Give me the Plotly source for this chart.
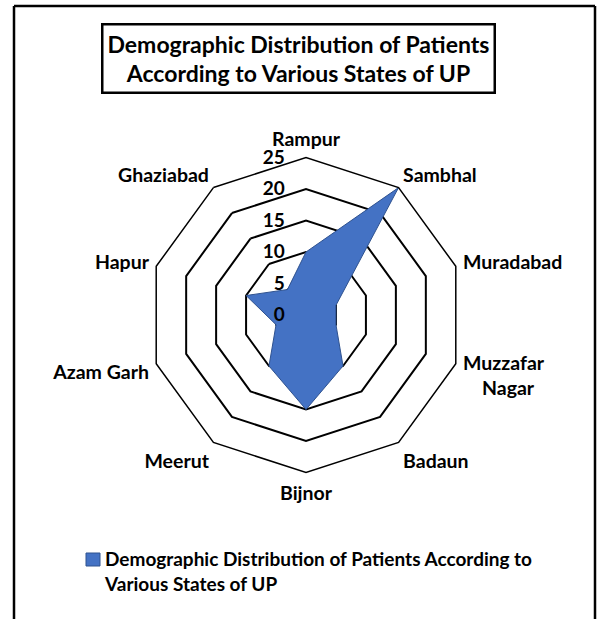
import plotly.graph_objects as go

# Data
states = ['Rampur', 'Sambhal', 'Muradabad', 'Muzzafar<br>\u00a0\u00a0\u00a0\u00a0Nagar', 'Badaun',
          'Bijnor', 'Meerut', 'Azam Garh', 'Hapur', 'Ghaziabad']
patients = [10, 25, 5, 5, 10, 15, 10, 5, 10, 5]
radial_ticks = [0, 5, 10, 15, 20, 25]

series_name = 'Demographic Distribution of Patients According to<br>Various States of UP'
title_text = 'Demographic Distribution of Patients<br>According to Various States of UP'

FONT = 'Lato'
W, H = 600, 619


def px(x):
    return x / W


def py(y):
    return 1 - y / H


fig = go.Figure()
fig.add_trace(go.Scatterpolar(r=patients + patients[:1],
                              theta=states + states[:1],
                              fill='toself',
                              mode='lines',
                              line={'color': '#2F528F', 'width': 1},
                              fillcolor='#4472C4',
                              name=series_name,
                              showlegend=False))

cx, cy, rad = 306, 315, 157.5
border = {'color': 'black', 'width': 2.5}
fig.update_layout(
    width=W, height=H,
    margin={'l': 0, 'r': 0, 't': 0, 'b': 0},
    paper_bgcolor='white',
    font={'family': FONT, 'color': 'black', 'size': 16},
    showlegend=False,
    polar={'domain': {'x': [px(cx - rad), px(cx + rad)],
                      'y': [py(cy + rad), py(cy - rad)]},
           'gridshape': 'linear',
           'bgcolor': 'white',
           'radialaxis': {'range': [0, 25], 'tickvals': radial_ticks,
                          'angle': 90, 'tickangle': 90, 'side': 'counterclockwise',
                          'showline': False,
                          'ticks': 'outside', 'ticklen': 14, 'tickcolor': 'rgba(0,0,0,0)',
                          'gridcolor': 'black', 'gridwidth': 1.5,
                          'tickfont': {'family': FONT, 'size': 19, 'weight': 'bold'}},
           'angularaxis': {'rotation': 90, 'direction': 'clockwise',
                           'showgrid': False,
                           'ticks': 'outside', 'ticklen': 3, 'tickcolor': 'rgba(0,0,0,0)',
                           'showline': True, 'linecolor': 'black', 'linewidth': 1.5,
                           'tickfont': {'family': FONT, 'size': 19.5, 'weight': 'bold'}}},
    annotations=[{'text': '<b>' + title_text + '</b>', 'x': px(298), 'y': py(59),
                  'xanchor': 'center', 'yanchor': 'middle',
                  'xref': 'paper', 'yref': 'paper', 'showarrow': False,
                  'font': {'family': FONT, 'size': 23},
                  'bordercolor': 'black', 'borderwidth': 2.5, 'borderpad': 4,
                  'bgcolor': 'white'},
                 # legend drawn by hand: square swatch plus wrapped text
                 {'text': '<b>' + series_name + '</b>', 'x': px(102), 'y': py(571),
                  'xanchor': 'left', 'yanchor': 'middle', 'align': 'left',
                  'xref': 'paper', 'yref': 'paper', 'showarrow': False,
                  'font': {'family': FONT, 'size': 19}}],
    shapes=[{'type': 'rect', 'xref': 'paper', 'yref': 'paper',
             'x0': px(86), 'x1': px(100), 'y0': py(566), 'y1': py(553),
             'fillcolor': '#4472C4', 'line': {'color': '#2F528F', 'width': 1}},
            {'type': 'line', 'xref': 'paper', 'yref': 'paper',
             'x0': px(14), 'x1': px(14), 'y0': -0.05, 'y1': py(6),
             'line': border},
            {'type': 'line', 'xref': 'paper', 'yref': 'paper',
             'x0': px(595), 'x1': px(595), 'y0': -0.05, 'y1': py(6),
             'line': border},
            {'type': 'line', 'xref': 'paper', 'yref': 'paper',
             'x0': px(14), 'x1': px(595), 'y0': py(6), 'y1': py(6),
             'line': border}])

# drop the browser's default body margin so the figure sits at the page origin
fig.write_html('out.html', config={'displayModeBar': False},
               post_script="document.body.style.margin = '0px';")
